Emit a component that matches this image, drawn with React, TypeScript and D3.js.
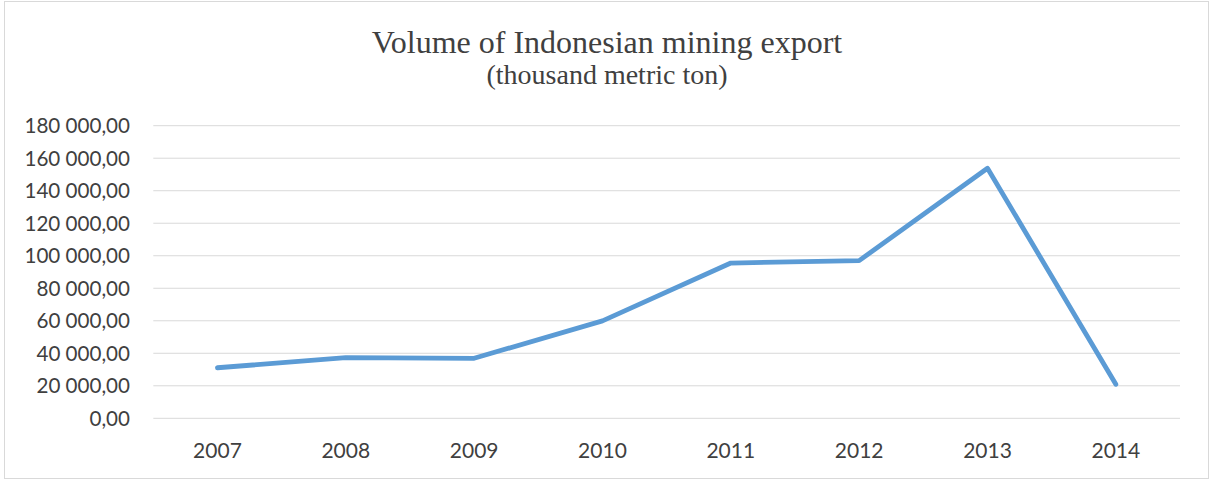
import React from "react";
import * as d3 from "d3";

const years = ["2007", "2008", "2009", "2010", "2011", "2012", "2013", "2014"];
const volumes = [31100, 37300, 36900, 59900, 95500, 97000, 153800, 20900];
const yTicks = [0, 20000, 40000, 60000, 80000, 100000, 120000, 140000, 160000, 180000];

const W = 1212;
const H = 481;
const left = 153.3;
const right = 1180;
const top = 125.7;
const bottom = 418.3;

const fmt = (v: number) => {
  const s = Math.round(v).toString().replace(/\B(?=(\d{3})+(?!\d))/g, " ");
  return s + ",00";
};

export default function App() {
  const x = d3.scaleBand<string>().domain(years).range([left, right]);
  const y = d3.scaleLinear().domain([0, 180000]).range([bottom, top]);
  const line = d3
    .line<number>()
    .x((_, i) => (x(years[i]) as number) + x.bandwidth() / 2)
    .y((d) => y(d));
  const font = "Lato, 'Open Sans', sans-serif";
  return (
    <svg
      width={W}
      height={H}
      style={{ position: "absolute", left: 0, top: 0, background: "#fff" }}
    >
      <rect x={4.5} y={1.5} width={1204} height={477} fill="#fff" stroke="#d9d9d9" strokeWidth={1} />
      <text
        x={607}
        y={53}
        textAnchor="middle"
        fontFamily="'Liberation Serif', 'Times New Roman', serif"
        fontSize={32}
        fill="#404040"
      >
        Volume of Indonesian mining export
      </text>
      <text
        x={607}
        y={84}
        textAnchor="middle"
        fontFamily="'Liberation Serif', 'Times New Roman', serif"
        fontSize={28}
        fill="#404040"
      >
        (thousand metric ton)
      </text>
      {yTicks.map((t) => (
        <g key={t}>
          <line x1={left} x2={right} y1={y(t)} y2={y(t)} stroke="#d9d9d9" strokeWidth={1} />
          <text
            x={130}
            y={y(t)}
            dy="0.36em"
            textAnchor="end"
            fontFamily={font}
            fontSize={20.6}
            fill="#404040"
          >
            {fmt(t)}
          </text>
        </g>
      ))}
      {years.map((yr) => (
        <text
          key={yr}
          x={(x(yr) as number) + x.bandwidth() / 2}
          y={458}
          textAnchor="middle"
          fontFamily={font}
          fontSize={21}
          fill="#404040"
        >
          {yr}
        </text>
      ))}
      <path
        d={line(volumes) || ""}
        fill="none"
        stroke="#5b9bd5"
        strokeWidth={4.8}
        strokeLinecap="round"
        strokeLinejoin="round"
      />
    </svg>
  );
}
